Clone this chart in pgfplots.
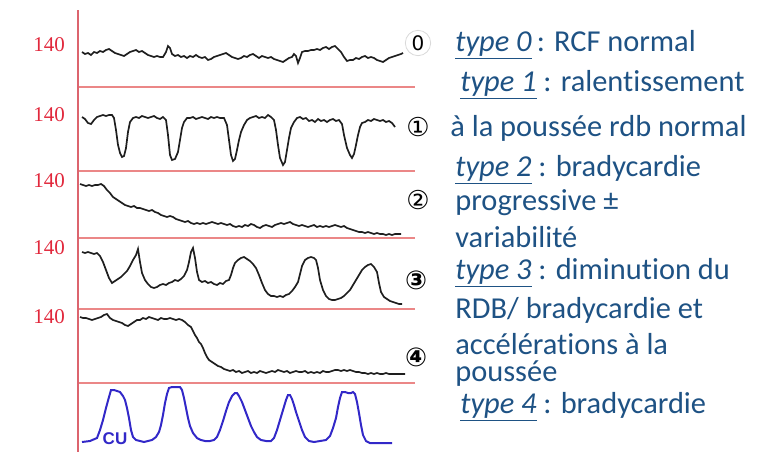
\documentclass[border=0pt]{standalone}
\usepackage{pgfplots}
\pgfplotsset{compat=1.18}
\usepackage{fontspec}
\setmainfont[Ligatures=NoCommon]{Carlito}
\newfontfamily\serifnum{Liberation Serif}
\newfontfamily\symb{DejaVu Sans}
\newfontfamily\cufont{Liberation Sans}
\definecolor{txtblue}{RGB}{30,82,132}
\definecolor{gridred}{RGB}{235,135,135}
\definecolor{axisred}{RGB}{220,100,110}
\definecolor{numred}{RGB}{225,40,60}
\definecolor{trace}{RGB}{30,30,30}
\definecolor{cublue}{RGB}{50,40,200}

\begin{document}
\begin{tikzpicture}
\begin{axis}[
  width=390.5pt, height=226pt, scale only axis,
  xmin=0, xmax=781, ymin=0, ymax=452, y dir=reverse,
  hide axis, clip=false,
]
% red grid: one horizontal line under each trace, and the time axis
\addplot[gridred, line width=0.7pt] coordinates {(78,87) (415,87)};
\addplot[gridred, line width=0.7pt] coordinates {(78,171) (415,171)};
\addplot[gridred, line width=0.7pt] coordinates {(78,238) (415,238)};
\addplot[gridred, line width=0.7pt] coordinates {(78,309) (415,309)};
\addplot[gridred, line width=0.7pt] coordinates {(78,383) (415,383)};
\addplot[axisred, line width=1.1pt] coordinates {(78,10) (78,452)};

% type 0
\addplot[trace, line width=0.85pt] coordinates {
(82,52) (85,54) (88,53) (91,55) (94,52) (97,53) (100,51) (103,52) (106,50) (109,49)
(112,51) (115,53) (118,54) (121,55) (124,56) (127,54) (130,52) (133,51) (136,50) (139,52)
(142,51) (145,53) (148,55) (151,56) (154,57) (157,56) (160,57) (163,57) (166,52) (168,46)
(170,48) (172,54) (175,56) (178,55) (181,57) (184,56) (187,58) (190,56) (193,57) (196,55)
(199,57) (202,58) (205,57) (208,60) (211,59) (214,57) (217,56) (220,55) (223,54) (226,53)
(229,55) (232,57) (235,58) (238,59) (241,58) (244,56) (247,57) (250,55) (253,54) (256,56)
(259,58) (262,56) (265,57) (268,58) (271,57) (274,59) (277,60) (280,61) (283,62) (286,60)
(289,58) (292,57) (294,54) (296,56) (298,63) (300,58) (302,52) (305,51) (308,51) (311,50)
(314,50) (317,49) (320,50) (323,48) (326,47) (329,49) (332,47) (335,46) (338,49) (341,52)
(344,57) (347,61) (350,60) (353,60) (356,58) (359,59) (362,57) (365,56) (368,58) (371,57)
(374,58) (377,60) (380,61) (383,62) (386,60) (389,58) (392,57) (395,56) (398,55) (401,54) (403,53)};

% type 1
\addplot[trace, line width=0.85pt] coordinates {
(82,117) (85,119) (88,123) (91,124) (94,120) (97,117) (100,116) (103,115) (106,116) (109,115)
(112,115) (114,118) (116,130) (118,145) (120,153) (122,157) (124,156) (126,148) (128,132) (130,122)
(133,118) (136,117) (139,118) (142,116) (145,117) (148,118) (151,117) (154,116) (157,118) (160,119)
(163,117) (166,120) (168,135) (170,155) (172,160) (175,159) (178,152) (180,140) (182,128) (184,122)
(187,118) (190,118) (193,117) (196,119) (199,118) (202,117) (205,118) (208,119) (211,117) (214,118)
(217,117) (220,118) (224,118) (227,125) (229,140) (231,155) (233,161) (235,159) (237,150) (239,140)
(241,132) (244,125) (247,120) (250,118) (253,117) (256,116) (259,118) (262,117) (265,118) (268,115)
(271,117) (274,120) (276,130) (278,145) (280,158) (283,165) (285,162) (287,150) (289,138) (291,128)
(294,122) (297,118) (300,117) (303,119) (306,118) (309,121) (312,120) (315,122) (318,119) (321,121)
(324,120) (327,122) (330,120) (333,119) (336,121) (339,120) (342,124) (344,135) (347,148) (350,155)
(352,158) (354,154) (356,145) (358,135) (360,127) (362,123) (365,122) (368,120) (371,121) (374,119)
(377,120) (380,121) (383,120) (386,122) (389,121) (392,123) (395,127)};

% type 2
\addplot[trace, line width=0.85pt] coordinates {
(80,184) (83,185) (86,186) (89,185) (92,186) (95,185) (98,185) (101,184) (104,186) (107,190)
(110,193) (113,197) (116,199) (119,201) (122,203) (125,205) (128,206) (131,207) (134,206) (137,208)
(140,208) (143,209) (146,210) (149,211) (152,210) (155,212) (158,213) (161,215) (164,216) (167,217)
(170,216) (173,217) (176,219) (179,220) (182,221) (185,222) (188,221) (191,223) (194,224) (197,223)
(200,224) (203,223) (206,224) (209,223) (212,222) (215,223) (218,224) (221,223) (224,224) (227,225)
(230,224) (233,226) (236,227) (239,226) (242,227) (245,225) (248,226) (251,224) (254,225) (257,227)
(260,228) (263,226) (266,225) (269,226) (272,227) (275,225) (278,224) (281,223) (284,224) (287,223)
(290,222) (293,224) (296,225) (299,226) (302,225) (305,226) (308,227) (311,226) (314,225) (317,227)
(320,226) (323,227) (326,226) (329,227) (332,226) (335,225) (338,226) (341,227) (344,226) (347,228)
(350,229) (353,230) (356,231) (359,232) (362,232) (365,233) (368,232) (371,233) (374,234) (377,233)
(380,234) (383,234) (386,235) (389,234) (392,235) (395,234) (398,234) (401,234)};

% type 3
\addplot[trace, line width=0.85pt] coordinates {
(82,252) (85,253) (88,252) (91,253) (94,254) (97,253) (100,256) (103,262) (106,270) (109,278)
(112,283) (115,281) (118,279) (121,277) (124,274) (127,271) (130,266) (133,260) (136,255) (138,249)
(140,262) (142,273) (145,280) (148,284) (151,287) (154,288) (157,287) (160,285) (163,284) (166,285)
(169,283) (172,282) (175,280) (178,281) (181,279) (184,276) (187,270) (189,262) (191,252) (193,248)
(195,258) (197,272) (199,280) (202,282) (205,281) (208,283) (211,282) (214,284) (217,285) (220,283)
(223,284) (226,281) (229,280) (231,275) (233,268) (235,263) (238,260) (241,258) (244,257) (247,259)
(250,261) (253,264) (256,268) (259,275) (262,283) (265,290) (268,294) (271,296) (274,296) (277,297)
(280,296) (283,297) (286,295) (289,294) (292,291) (295,287) (298,282) (300,274) (302,266) (305,260)
(308,258) (311,257) (314,258) (316,260) (318,268) (320,280) (323,290) (326,296) (329,299) (332,300)
(335,300) (338,299) (341,298) (344,296) (347,293) (350,290) (353,285) (356,280) (359,275) (362,270)
(365,267) (368,265) (371,264) (374,267) (377,272) (379,283) (381,292) (384,297) (387,299) (390,301)
(393,302) (396,303) (399,304) (402,304)};

% type 4
\addplot[trace, line width=0.85pt] coordinates {
(80,317) (83,318) (86,318) (89,319) (92,320) (95,319) (98,318) (101,317) (104,315) (107,314)
(110,318) (113,320) (116,321) (119,322) (122,323) (125,325) (128,326) (131,324) (134,322) (137,320)
(140,320) (143,318) (146,319) (149,317) (152,318) (155,319) (158,320) (161,318) (164,319) (167,319)
(170,318) (173,319) (176,320) (179,319) (182,320) (185,322) (188,325) (191,327) (193,331) (195,335)
(197,338) (199,342) (201,344) (203,348) (205,353) (207,357) (209,360) (212,362) (215,364) (218,366)
(221,367) (224,369) (227,370) (230,371) (233,370) (236,372) (239,371) (242,373) (245,372) (248,371)
(251,373) (254,372) (257,373) (260,371) (263,372) (266,373) (269,372) (272,371) (275,372) (278,370)
(281,371) (284,372) (287,371) (290,373) (293,372) (296,371) (299,372) (302,372) (305,371) (308,373)
(311,372) (314,373) (317,372) (320,373) (323,371) (326,372) (329,372) (332,371) (335,370) (338,370)
(341,371) (344,370) (347,371) (350,370) (353,371) (356,372) (359,372) (362,373) (365,373) (368,374)
(371,373) (374,374) (377,373) (380,374) (383,374) (386,373) (389,374) (392,374) (395,374) (398,374)
(401,374) (405,374)};

% uterine contractions
\addplot[cublue, line width=1pt] coordinates {
(82,442) (90,441) (97,438) (100,430) (103,420) (106,408) (109,397) (111,390) (114,390) (117,391)
(120,392) (123,396) (125,400) (127,408) (129,418) (131,430) (133,437) (136,440) (140,441) (144,442)
(148,441) (152,440) (156,437) (159,432) (161,425) (163,415) (165,403) (167,394) (169,388) (172,387)
(176,387) (180,387) (182,390) (184,398) (186,408) (188,418) (190,426) (193,433) (197,438) (201,440)
(205,441) (210,441) (214,440) (217,437) (220,430) (223,421) (226,411) (229,402) (232,396) (235,393)
(237,393) (239,396) (242,402) (245,410) (248,418) (251,426) (254,432) (257,437) (261,440) (266,441)
(271,441) (274,438) (277,430) (280,420) (283,410) (286,400) (288,395) (290,395) (292,399) (294,405)
(296,412) (299,421) (302,430) (305,437) (309,441) (314,442) (320,441) (326,440) (330,436) (333,428)
(336,418) (338,407) (340,398) (342,392) (345,392) (348,393) (351,393) (353,392) (355,394) (357,402)
(359,413) (361,425) (363,435) (366,441) (370,443) (380,443) (392,443)};

% labels
\foreach \yy in {45,115,181,248,317}{
  \edef\tmp{\noexpand\node[text=numred, font=\noexpand\serifnum\noexpand\fontsize{10.5}{12}\noexpand\selectfont] at (axis cs:49,\yy) {140};}
  \tmp
}
\node[text=cublue, font=\cufont\bfseries\fontsize{8.5}{10}\selectfont] at (axis cs:115,439) {CU};
\node[circle, draw=gray!30, inner sep=1pt, font=\symb\fontsize{10}{11}\selectfont] at (axis cs:418,43) {0};
\node[font=\symb\fontsize{13}{14}\selectfont] at (axis cs:418,127) {①};
\node[font=\symb\fontsize{13}{14}\selectfont] at (axis cs:418,200) {②};
\node[font=\symb\bfseries\fontsize{13}{14}\selectfont] at (axis cs:416,280) {③};
\node[font=\symb\bfseries\fontsize{13}{14}\selectfont] at (axis cs:416,357) {④};

\begin{scope}[every node/.style={anchor=west, inner sep=0pt, text=txtblue, font=\fontsize{15.2}{18}\selectfont}]
\node at (axis cs:455,45) {\underline{\textit{type 0}}\,: RCF normal};
\node at (axis cs:460,85) {\underline{\textit{type 1}} : ralentissement};
\node at (axis cs:450,128) {à la poussée rdb normal};
\node at (axis cs:455,170) {\underline{\textit{type 2}} : bradycardie};
\node at (axis cs:455,203) {progressive ±};
\node at (axis cs:455,237) {variabilité};
\node at (axis cs:455,273) {\underline{\textit{type 3}} : diminution du};
\node at (axis cs:455,310) {RDB/ bradycardie et};
\node at (axis cs:455,344) {accélérations à la};
\node at (axis cs:455,374) {poussée};
\node at (axis cs:460,407) {\underline{\textit{type 4}} : bradycardie};
\end{scope}
\end{axis}
\pgfresetboundingbox
\path (current axis.south west) rectangle (current axis.north east);
\end{tikzpicture}
\end{document}
